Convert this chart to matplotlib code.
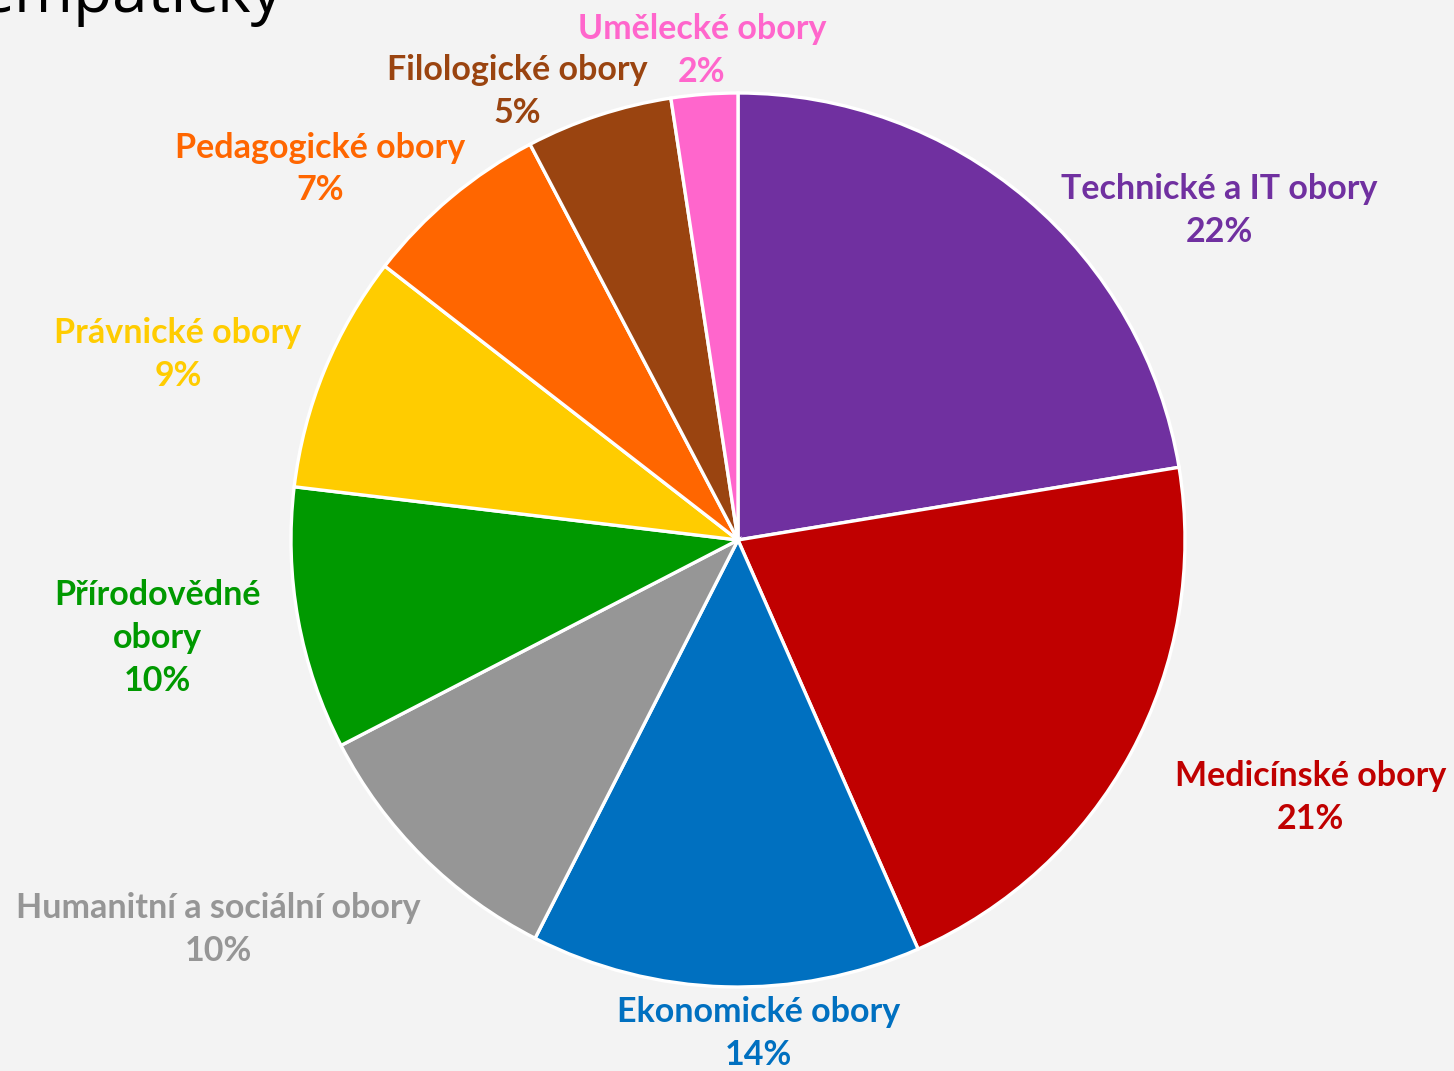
import matplotlib
matplotlib.use("Agg")
import matplotlib.pyplot as plt

categories = ["Technické a IT obory", "Medicínské obory", "Ekonomické obory",
              "Humanitní a sociální obory", "Přírodovědné\nobory", "Právnické obory",
              "Pedagogické obory", "Filologické obory", "Umělecké obory"]
values = [22.4, 21.0, 14.1, 9.9, 9.5, 8.6, 6.8, 5.3, 2.4]
percent_labels = ["22%", "21%", "14%", "10%", "10%", "9%", "7%", "5%", "2%"]

colors = ["#7030A0", "#C00000", "#0070C0", "#969696", "#009900",
          "#FFCC00", "#FF6600", "#9A4410", "#FF66CC"]
label_pos = [(1.076, 0.738), (1.280, -0.577), (0.045, -1.103), (-1.163, -0.872),
             (-1.298, -0.219), (-1.253, 0.416), (-0.935, 0.830), (-0.494, 1.004),
             (-0.081, 1.096)]

W, H = 1454, 1071
cx, cy, R = 738, 540, 447
fig = plt.figure(figsize=(W / 100, H / 100), dpi=100)
fig.patch.set_facecolor("#f3f3f3")
ax = fig.add_axes([0, 0, 1, 1])
ax.set_facecolor("#f3f3f3")

ax.pie(values, colors=colors, startangle=90, counterclock=False, radius=1.0,
       wedgeprops=dict(edgecolor="white", linewidth=2.4))
ax.set_xlim(-cx / R, (W - cx) / R)
ax.set_ylim(-(H - cy) / R, cy / R)
ax.set_aspect("equal")
ax.axis("off")

for cat, pct, col, (x, y) in zip(categories, percent_labels, colors, label_pos):
    ax.text(x, y, f"{cat}\n{pct}", color=col, fontsize=24.5, fontweight="bold",
            family=["Lato", "DejaVu Sans"], ha="center", va="center",
            linespacing=1.42)

fig.text(283 / W, 1 - 12 / H, "empatický", fontsize=46, color="black",
         family=["Open Sans", "DejaVu Sans"], ha="right", va="baseline")

fig.savefig("out.png", dpi=100, facecolor=fig.get_facecolor())
